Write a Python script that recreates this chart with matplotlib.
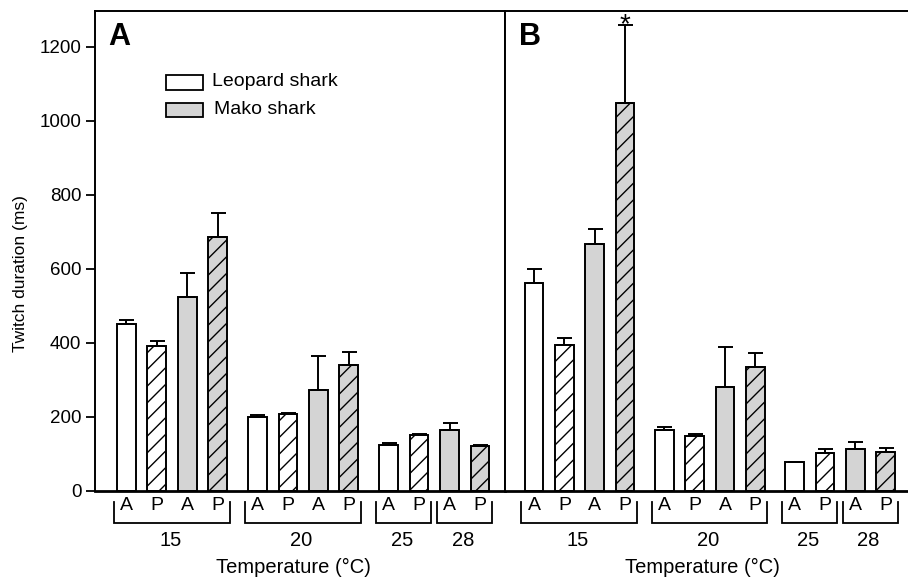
import matplotlib
matplotlib.use('Agg')
import matplotlib.pyplot as plt
import numpy as np
from matplotlib.patches import Rectangle
import matplotlib.transforms as mtransforms

plt.rcParams['font.family'] = ['Liberation Sans', 'DejaVu Sans']
plt.rcParams['hatch.linewidth'] = 1.0

# ---- data ----
muscle_labels = ['A', 'P', 'A', 'P', 'A', 'P', 'A', 'P', 'A', 'P', 'A', 'P']
species = ['Leopard', 'Leopard', 'Mako', 'Mako',
           'Leopard', 'Leopard', 'Mako', 'Mako',
           'Leopard', 'Leopard', 'Mako', 'Mako']
group_labels = ['15', '20', '25', '28']
group_members = [[0, 1, 2, 3], [4, 5, 6, 7], [8, 9], [10, 11]]

a_means = [451, 391, 524, 686, 198, 207, 273, 339, 124, 150, 164, 121]
a_err = [11, 14, 64, 65, 6, 3, 91, 36, 4, 2, 19, 2]
b_means = [561, 393, 667, 1047, 164, 147, 281, 333, 76, 101, 113, 104]
b_err = [38, 20, 41, 210, 7, 7, 107, 39, 2, 11, 18, 12]

y_ticks = [0, 200, 400, 600, 800, 1000, 1200]
legend_labels = ['Leopard shark', 'Mako shark']
xlabel = 'Temperature (\u00b0C)'
ylabel = 'Twitch duration (ms)'

# ---- layout ----
W, H = 908, 580
positions = np.array([0, 1, 2, 3, 4.3, 5.3, 6.3, 7.3, 8.6, 9.6, 10.6, 11.6])
bar_w = 0.62
gray = '#d4d4d4'

fig = plt.figure(figsize=(W / 100, H / 100), dpi=100)
y0px, y1px = 490.5, 10.7
axh = (y0px - y1px) / H
axA = fig.add_axes([95 / W, 1 - y0px / H, 410 / W, axh])
axB = fig.add_axes([505 / W, 1 - y0px / H, 403 / W, axh])


def ya(p):
    return (y0px - p) / (y0px - y1px)


def draw(ax, means, errs, xlim):
    colors = ['white' if s == 'Leopard' else gray for s in species]
    hatches = ['//' if m == 'P' else '' for m in muscle_labels]
    for xi, m, c, h in zip(positions, means, colors, hatches):
        ax.bar(xi, m, width=bar_w, color=c, edgecolor='black',
               linewidth=1.4, hatch=h, zorder=2)
    ax.errorbar(positions, means, yerr=[np.zeros(len(means)), errs],
                fmt='none', ecolor='black', elinewidth=1.4, capsize=5.4,
                capthick=1.4, zorder=3)
    ax.set_xlim(*xlim)
    ax.set_ylim(0, 1297)
    ax.set_xticks([])
    trans = mtransforms.blended_transform_factory(ax.transData, ax.transAxes)
    for xi, lab in zip(positions, muscle_labels):
        ax.text(xi, ya(505), lab, transform=trans, ha='center', va='center',
                fontsize=14, clip_on=False)
    for lab, mem in zip(group_labels, group_members):
        left = positions[mem[0]] - 0.42
        right = positions[mem[-1]] + 0.40
        ax.plot([left, left, right, right],
                [ya(501.5), ya(523), ya(523), ya(501.5)],
                transform=trans, color='black', lw=1.3, clip_on=False,
                solid_joinstyle='miter')
        ax.text((left + right) / 2 - 0.05, ya(540), lab, transform=trans,
                ha='center', va='center', fontsize=14.5, clip_on=False)
    for s in ['top', 'left', 'right', 'bottom']:
        ax.spines[s].set_linewidth(1.4)
    ax.spines['bottom'].set_linewidth(2.0)


draw(axA, a_means, a_err, (-1.03, 12.42))
draw(axB, b_means, b_err, (-0.96, 12.34))

axA.set_yticks(y_ticks)
axA.tick_params(axis='y', direction='out', length=6.2, width=1.3,
                labelsize=13.5, pad=3.6)
axB.set_yticks([])
axB.spines['right'].set_visible(False)

fig.text(21 / W, 1 - 274 / H, ylabel, rotation=90, ha='center', va='center',
         fontsize=12.5)
fig.text(293 / W, 1 - 567 / H, xlabel, ha='center', va='center', fontsize=14.5)
fig.text(702 / W, 1 - 567 / H, xlabel, ha='center', va='center', fontsize=14.5)

fig.text(108 / W, 1 - 45 / H, 'A', ha='left', va='baseline', fontsize=22,
         fontweight='bold')
fig.text(519 / W, 1 - 45 / H, 'B', ha='left', va='baseline', fontsize=22,
         fontweight='bold')

# asterisk above mako P 15 in panel B
axB.annotate('*', xy=(positions[3], b_means[3] + b_err[3]), xytext=(0, -4.5),
             textcoords='offset points', ha='center', va='baseline',
             fontsize=20)

# legend
for i, (lab, c) in enumerate(zip(legend_labels, ['white', gray])):
    top = 75.5 + i * 27.5
    fig.patches.append(Rectangle((166 / W, 1 - (top + 14) / H), 36.5 / W, 14 / H,
                                 transform=fig.transFigure, facecolor=c,
                                 edgecolor='black', linewidth=1.3))
    fig.text((212 + i * 2) / W, 1 - (top + 6) / H, lab, ha='left',
             va='center', fontsize=14)

fig.savefig('out.png', dpi=100)
